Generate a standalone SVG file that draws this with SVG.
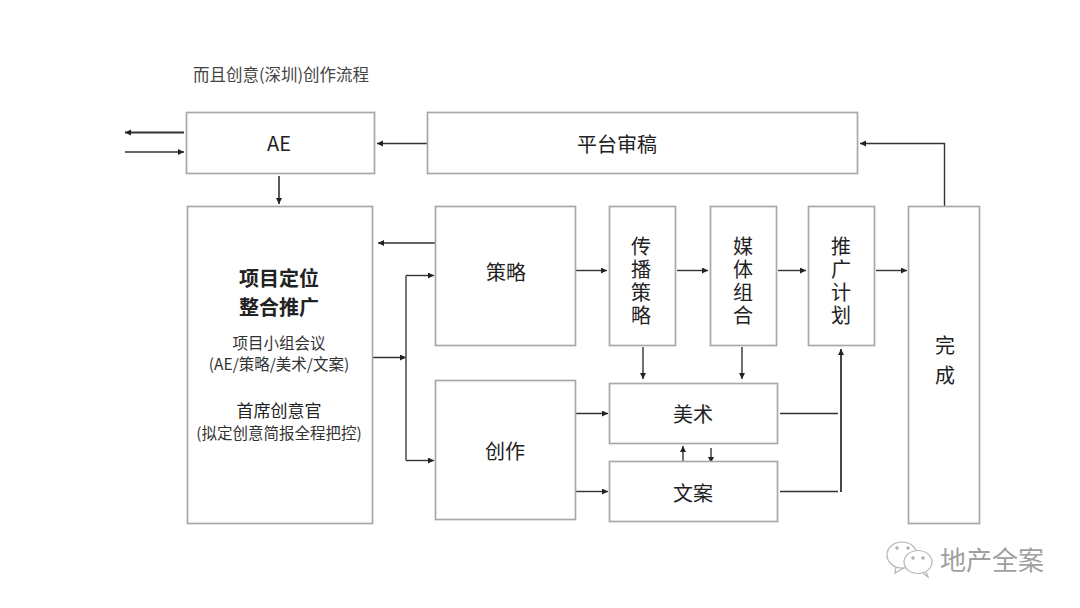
<svg xmlns="http://www.w3.org/2000/svg" width="1080" height="608" viewBox="0 0 1080 608">
<style>
text{font-family:"Noto Sans CJK SC","Liberation Sans",sans-serif;fill:#222;text-anchor:middle}
.b{fill:#fff;stroke:#a8a8a8;stroke-width:1.7}
.l{fill:none;stroke:#333;stroke-width:1.4}
.a{marker-end:url(#m)}
.t{font-size:20px}
.v{font-size:20px;writing-mode:vertical-rl;letter-spacing:3px}
.s{font-size:15.500px;fill:#333}
</style>
<defs>
<marker id="m" markerUnits="userSpaceOnUse" markerWidth="7" markerHeight="7" refX="6" refY="3" orient="auto"><path d="M0 0L6 3L0 6Z" fill="#222"/></marker>
</defs>
<rect width="1080" height="608" fill="#fff"/>
<text x="281" y="81" font-size="16.500" style="fill:#444">而且创意(深圳)创作流程</text>
<g id="connectors">
<path class="l a" d="M184 132.500H125" style="stroke-width:1.800"/>
<path class="l a" d="M125 152H184"/>
<path class="l a" d="M427 143.500H377"/>
<path class="l a" d="M279 176V204" style="stroke-width:1.600"/>
<path class="l a" d="M437 243H378"/>
<path class="l a" d="M372 357.500H406"/>
<path class="l" d="M406 275.500V460.500" style="stroke:#555;stroke-width:1.600"/>
<path class="l a" d="M406 275.500H434"/>
<path class="l a" d="M406 460.500H434"/>
<path class="l a" d="M576 270.500H607"/>
<path class="l a" d="M677 270.500H708"/>
<path class="l a" d="M778 270.500H806"/>
<path class="l a" d="M876 270.500H907"/>
<path class="l a" d="M944.500 206V143.500H860"/>
<path class="l a" d="M643 347V379"/>
<path class="l a" d="M742 347V379"/>
<path class="l a" d="M575 413.500H608"/>
<path class="l a" d="M576 491.500H608"/>
<path class="l a" d="M683 461V446"/>
<path class="l a" d="M711 448V463"/>
<path class="l" d="M780 413.500H838"/>
<path class="l" d="M780 491.500H838"/>
<path class="l a" d="M841 492V349" style="stroke-width:1.800"/>
</g>
<g id="ae"><rect class="b" x="186.500" y="112.500" width="188" height="61"/><text class="t" x="279" y="151">AE</text></g>
<g id="review"><rect class="b" x="427.500" y="112.500" width="430" height="61"/><text class="t" x="617" y="152">平台审稿</text></g>
<g id="project"><rect class="b" x="187.500" y="206.500" width="185" height="317"/>
<text x="279" y="286" font-size="20" font-weight="700">项目定位</text>
<text x="279" y="315" font-size="20" font-weight="700">整合推广</text>
<text class="s" x="279" y="349">项目小组会议</text>
<text class="s" x="279" y="370">(AE/策略/美术/文案)</text>
<text x="279" y="417" font-size="17">首席创意官</text>
<text class="s" x="279" y="439">(拟定创意简报全程把控)</text></g>
<g id="strategy"><rect class="b" x="435.500" y="206.500" width="140" height="139"/><text class="t" x="506" y="280">策略</text></g>
<g id="creation"><rect class="b" x="435.500" y="380.500" width="140" height="139"/><text class="t" x="505" y="459">创作</text></g>
<g id="comm"><rect class="b" x="609.500" y="206.500" width="66" height="139"/><text class="v" x="641" y="282">传播策略</text></g>
<g id="media"><rect class="b" x="710.500" y="206.500" width="66" height="139"/><text class="v" x="743" y="282">媒体组合</text></g>
<g id="promo"><rect class="b" x="808.500" y="206.500" width="66" height="139"/><text class="v" x="841" y="282">推广计划</text></g>
<g id="done"><rect class="b" x="908.500" y="206.500" width="71" height="317"/><text class="v" x="945" y="365" style="letter-spacing:10px">完成</text></g>
<g id="art"><rect class="b" x="609.500" y="383.500" width="168" height="60"/><text class="t" x="693" y="422">美术</text></g>
<g id="copy"><rect class="b" x="609.500" y="461.500" width="168" height="60"/><text class="t" x="693" y="501">文案</text></g>
<g id="watermark" fill="none" stroke="#b5b5b5" stroke-width="1.200">
<ellipse cx="902" cy="555" rx="15" ry="13"/>
<path d="M896 567L895 573L904 568"/>
<ellipse cx="918" cy="562" rx="14" ry="11.500" fill="#fff"/>
<path d="M923 573L928 577L926 572"/>
<circle cx="897" cy="548" r="1.200" fill="#aaa"/><circle cx="908" cy="548" r="1.200" fill="#aaa"/><circle cx="913" cy="558" r="1.200" fill="#aaa"/><circle cx="923" cy="558" r="1.200" fill="#aaa"/>
<text x="992" y="570" font-size="26" style="fill:#a0a0a0" stroke="none">地产全案</text>
</g>
</svg>
